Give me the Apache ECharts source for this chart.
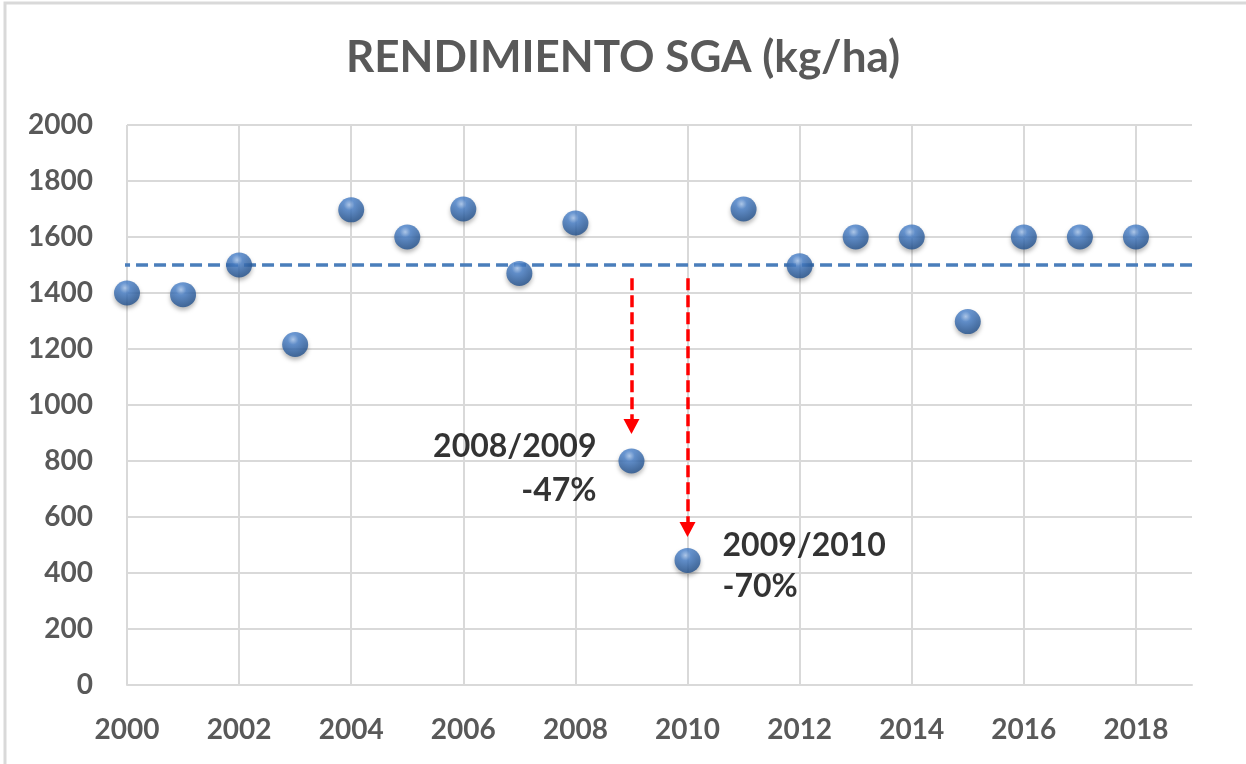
<!DOCTYPE html>
<html>
<head>
<meta charset="utf-8">
<script src="https://cdn.jsdelivr.net/npm/echarts@6/dist/echarts.min.js"></script>
<style>
  html, body { margin: 0; padding: 0; background: #fff; }
  #chart { width: 1246px; height: 764px; }
</style>
</head>
<body>
<div id="chart"></div>
<script>
// datos
const years = [2000, 2001, 2002, 2003, 2004, 2005, 2006, 2007, 2008, 2009,
  2010, 2011, 2012, 2013, 2014, 2015, 2016, 2017, 2018];
const rendimiento = [1400, 1394, 1500, 1216, 1697, 1600, 1700, 1470, 1650, 800,
  445, 1700, 1497, 1600, 1600, 1298, 1600, 1600, 1600];

// linea de referencia (sale un poco fuera del area de trazado)
const promedioX = [1999.84, 2019.14];
const promedioY = [1500, 1500];

// flechas de caida
const dropYears = [2009, 2010];
const dropFrom = [1453, 1453];
const dropTo = [923, 555];
const dropLabels = ['2008/2009\n-47%', '2009/2010\n-70%'];

const FONT = 'Lato';
const GRAY = '#595959';
const GRID = '#d9d9d9';

const chart = echarts.init(document.getElementById('chart'));

const sphere = {
  type: 'radial', x: 0.42, y: 0.3, r: 0.75,
  colorStops: [
    { offset: 0, color: '#a9c9f3' },
    { offset: 0.28, color: '#4a82cc' },
    { offset: 1, color: '#1d4b86' },
  ],
};

const labelText = {
  show: true, color: '#000000', fontFamily: FONT, fontWeight: 'bold', fontSize: 32,
  textBorderWidth: 0,
};

const points = years.map((y, i) => {
  const item = { value: [y, rendimiento[i]] };
  const k = dropYears.indexOf(y);
  if (k === 0) {
    item.label = Object.assign({}, labelText, {
      position: 'left', distance: 22, align: 'right',
      formatter: dropLabels[k], lineHeight: 44, offset: [0, 8],
    });
  } else if (k === 1) {
    item.label = Object.assign({}, labelText, {
      position: 'right', distance: 22, align: 'left',
      formatter: dropLabels[k], lineHeight: 41, offset: [0, 6],
    });
  }
  return item;
});

const arrows = dropYears.map((y, i) => [
  { coord: [y, dropFrom[i]] },
  { coord: [y, dropTo[i]] },
]);

chart.setOption({
  animation: false,
  backgroundColor: '#fff',
  title: {
    text: 'RENDIMIENTO SGA (kg/ha)',
    left: 'center',
    top: 36,
    padding: [0, 0, 0, 22],
    textStyle: { fontFamily: FONT, fontWeight: 'bold', fontSize: 44, color: GRAY },
  },
  graphic: [{
    type: 'rect',
    shape: { x: 5, y: 3, width: 1400, height: 900 },
    style: { fill: null, stroke: GRID, lineWidth: 3 },
    silent: true,
  }],
  grid: { left: 127, right: 54, top: 125, bottom: 79 },
  xAxis: {
    type: 'value',
    min: 2000, max: 2019, interval: 2,
    axisLine: { show: true, lineStyle: { color: GRID, width: 2 } },
    axisTick: { show: false },
    splitLine: { show: true, showMaxLine: false, lineStyle: { color: GRID, width: 2 } },
    axisLabel: {
      color: GRAY, fontFamily: FONT, fontWeight: 'bold', fontSize: 28,
      margin: 31, showMaxLabel: false, formatter: (v) => String(v),
    },
  },
  yAxis: {
    type: 'value',
    min: 0, max: 2000, interval: 200,
    axisLine: { show: false },
    axisTick: { show: false },
    splitLine: { lineStyle: { color: GRID, width: 2 } },
    axisLabel: {
      color: GRAY, fontFamily: FONT, fontWeight: 'bold', fontSize: 28, margin: 34,
      formatter: (v) => String(v),
    },
  },
  series: [
    {
      type: 'line',
      clip: false,
      symbol: 'none',
      silent: true,
      lineStyle: { color: '#4a7ebb', width: 3.5, type: [12, 6] },
      data: promedioX.map((x, i) => [x, promedioY[i]]),
      z: 2,
    },
    {
      type: 'scatter',
      clip: false,
      symbol: 'circle',
      symbolSize: [26, 25],
      itemStyle: {
        color: sphere,
        shadowColor: 'rgba(0,0,0,0.35)', shadowBlur: 4, shadowOffsetY: 3,
      },
      data: points,
      markLine: {
        silent: true,
        animation: false,
        symbol: ['none', 'triangle'],
        symbolSize: [16, 15],
        label: { show: false },
        emphasis: { disabled: true },
        lineStyle: { color: '#ff0000', width: 3.5, type: [12, 5] },
        data: arrows,
      },
      z: 3,
    },
  ],
});
</script>
</body>
</html>
